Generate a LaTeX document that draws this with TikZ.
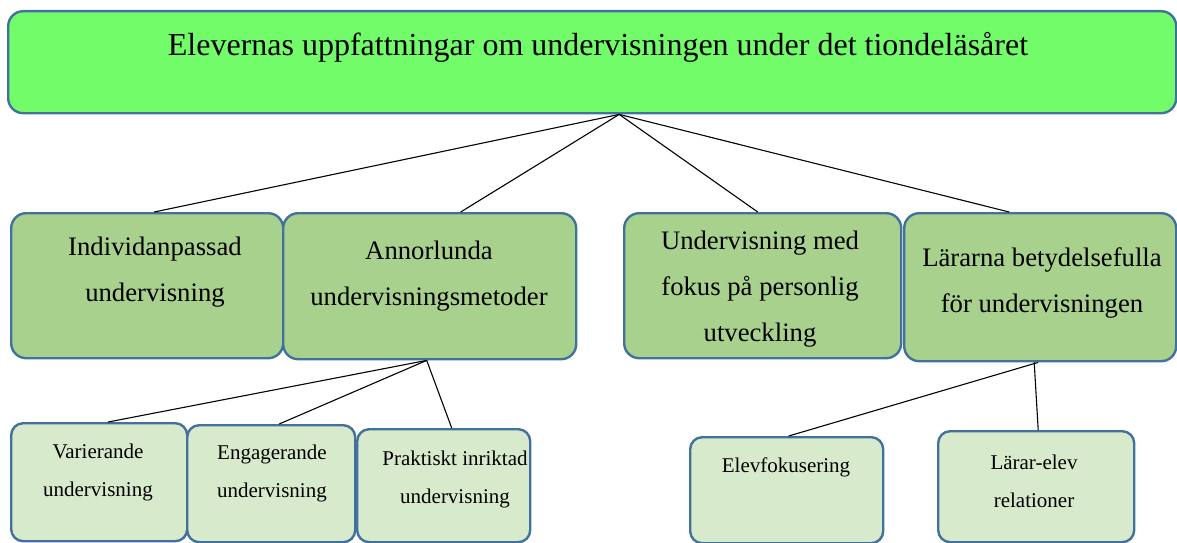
\documentclass[tikz,border=0pt]{standalone}
\usepackage{fontspec}
\setmainfont{Liberation Serif}
\newfontfamily\tnr{Liberation Serif}
\usepackage{xcolor}
\usepackage{tikz}
\usetikzlibrary{positioning}
\definecolor{rootgreen}{HTML}{72FC6A}
\definecolor{midgreen}{HTML}{A9D18E}
\definecolor{lowgreen}{HTML}{D8EACC}
\definecolor{edgeblue}{HTML}{41719C}
\tikzset{
  box/.style={draw=edgeblue, line width=2.4pt, rounded corners=15pt, anchor=north west, inner sep=0pt},
  rootbox/.style={box, fill=rootgreen},
  midbox/.style={box, fill=midgreen},
  lowbox/.style={box, fill=lowgreen, rounded corners=12pt},
  ttl/.style={font=\tnr\fontsize{32}{36}\selectfont},
  mtxt/.style={font=\tnr\fontsize{26.7}{46}\selectfont, align=center},
  ltxt/.style={font=\tnr\fontsize{21}{38}\selectfont, align=center},
  ln/.style={draw=black, line width=1.1pt}
}

\begin{document}
\begin{tikzpicture}[x=1pt, y=-1pt]
  \useasboundingbox (0,0) rectangle (1177,543);
  % top
  \node[rootbox, minimum width=1168pt, minimum height=102pt] (root) at (7,10) {};
  \node[ttl] (root-t) at (598,47) {Elevernas uppfattningar om undervisningen under det tiondeläsåret};
  % level 1
  \node[midbox, minimum width=272pt, minimum height=145pt] (ind) at (10,212) {};
  \node[midbox, minimum width=293pt, minimum height=146pt] (ann) at (282,212) {};
  \node[midbox, minimum width=277pt, minimum height=145pt] (fok) at (623,212) {};
  \node[midbox, minimum width=272pt, minimum height=148pt] (lar) at (903,212) {};
  \node[mtxt] (ind-t) at (155,272) {Individanpassad\\undervisning};
  \node[mtxt] (ann-t) at (429,276) {Annorlunda\\undervisningsmetoder};
  \node[mtxt] (fok-t) at (760,289) {Undervisning med\\fokus på personlig\\utveckling};
  \node[mtxt] (lar-t) at (1042,283) {Lärarna betydelsefulla\\för undervisningen};
  % level 2
  \node[lowbox, minimum width=176pt, minimum height=118pt] (var) at (10,422) {};
  \node[lowbox, minimum width=168pt, minimum height=117pt] (eng) at (186,424) {};
  \node[lowbox, minimum width=173pt, minimum height=113pt] (pra) at (356,428) {};
  \node[lowbox, minimum width=193pt, minimum height=106pt] (elv) at (689,436) {};
  \node[lowbox, minimum width=196pt, minimum height=111pt] (lre) at (937,430) {};
  \node[ltxt] (var-t) at (98,472) {Varierande\\undervisning};
  \node[ltxt] (eng-t) at (272,473) {Engagerande\\undervisning};
  \node[ltxt] (pra-t) at (455,479) {Praktiskt inriktad\\undervisning};
  \node[ltxt] (elv-t) at (786,467) {Elevfokusering};
  \node[ltxt] (lre-t) at (1034,481) {Lärar-elev\\relationer};
  % connectors
  \draw[ln] ([xshift=27pt]root.south) -- ([xshift=7pt]ind.north);
  \draw[ln] ([xshift=27pt]root.south) -- ([xshift=31pt]ann.north);
  \draw[ln] ([xshift=27pt]root.south) -- ([xshift=-5pt]fok.north);
  \draw[ln] ([xshift=27pt]root.south) -- ([xshift=-31pt]lar.north);
  \draw[ln] ([xshift=-3pt]ann.south) -- ([xshift=9pt]var.north);
  \draw[ln] ([xshift=-3pt]ann.south) -- ([xshift=8pt]eng.north);
  \draw[ln] ([xshift=-3pt]ann.south) -- ([xshift=8pt]pra.north);
  \draw[ln] ([xshift=-2pt]lar.south) -- ([xshift=2pt]elv.north);
  \draw[ln] ([xshift=-6pt]lar.south) -- ([xshift=2pt]lre.north);
\end{tikzpicture}
\end{document}
